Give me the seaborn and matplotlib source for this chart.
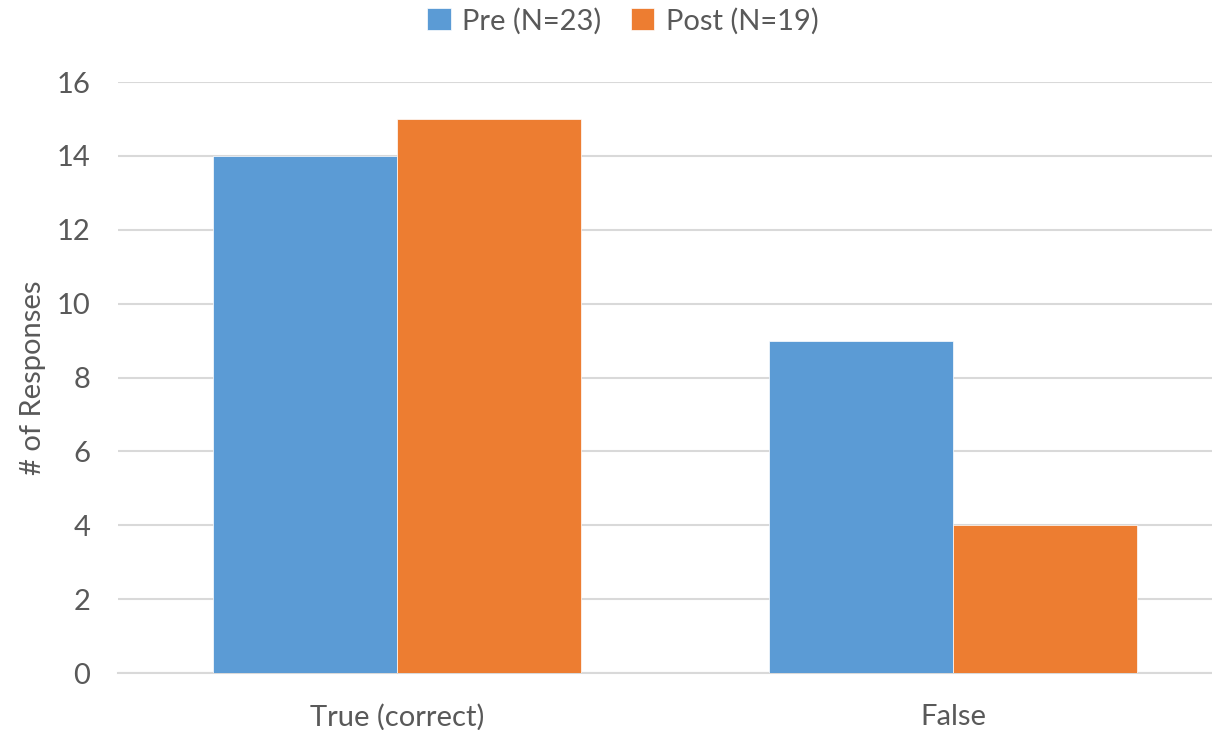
import pandas as pd
import matplotlib.pyplot as plt
import seaborn as sns

categories = ["True (correct)", "False"]
groups = ["Pre (N=23)", "Post (N=19)"]
pre_values = [14, 9]
post_values = [15, 4]
colors = ["#5B9BD5", "#ED7D31"]

df = pd.DataFrame({
    "answer": categories * 2,
    "group": [groups[0]] * 2 + [groups[1]] * 2,
    "count": pre_values + post_values,
})

sns.set_style("white")
plt.rcParams["font.family"] = ["Lato", "DejaVu Sans"]

fig = plt.figure(figsize=(12.12, 7.3), dpi=100)
ax = fig.add_axes([118 / 1212, 1 - 673 / 730, 1 - 118 / 1212, (673 - 82) / 730])

sns.barplot(data=df, x="answer", y="count", hue="group", palette=colors,
            width=0.662, saturation=1, ax=ax, zorder=3, linewidth=0.5, edgecolor="white")

ax.set_ylim(0, 16)
ax.set_xlim(-0.502, 1.466)
ax.set_yticks(range(0, 17, 2))
ax.yaxis.grid(True, color="#D9D9D9", linewidth=1.5, zorder=0)
ax.set_axisbelow(True)
for s in ["top", "right", "left"]:
    ax.spines[s].set_visible(False)
ax.spines["bottom"].set_color("#D9D9D9")
ax.spines["bottom"].set_linewidth(1.5)
ax.tick_params(axis="both", length=0, labelsize=21, labelcolor="#595959")
ax.tick_params(axis="y", pad=20)
ax.tick_params(axis="x", pad=22)
ax.set_xlabel("")
ax.set_ylabel("# of Responses", fontsize=21, color="#595959")
ax.yaxis.set_label_coords(-0.066, 0.5)

handles, labels = ax.get_legend_handles_labels()
ax.legend(handles, labels, loc="center", bbox_to_anchor=((623 - 118) / 1094, 1 + 61 / 591),
          ncol=2, frameon=False, fontsize=21, labelcolor="#595959",
          handlelength=0.8, handleheight=0.8, handletextpad=0.4, columnspacing=1.0)

fig.savefig("out.png", dpi=100)
